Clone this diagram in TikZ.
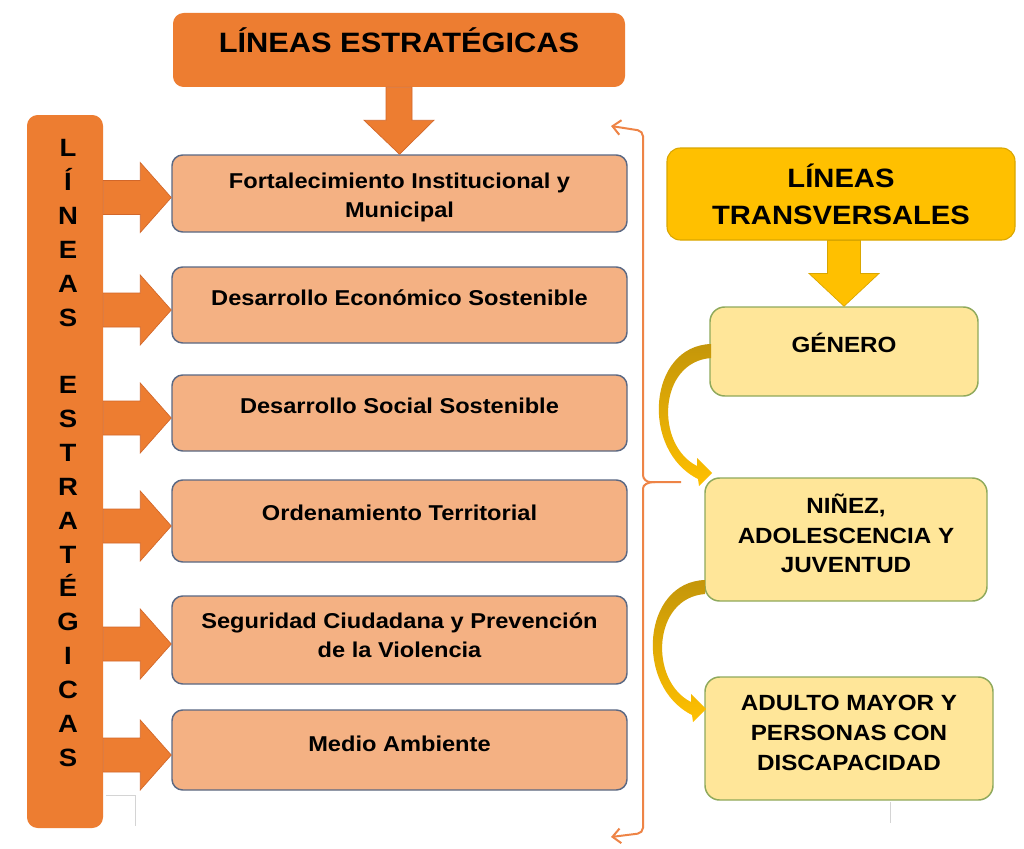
\documentclass[tikz,border=0pt]{standalone}
\usepackage{fontspec}
\setmainfont{Liberation Sans}[FakeStretch=1.1]
\usetikzlibrary{arrows.meta,fit,calc}
\definecolor{orng}{HTML}{ED7D31}
\definecolor{orngline}{HTML}{D2672A}
\definecolor{lorng}{HTML}{F4B183}
\definecolor{boxline}{HTML}{5A6883}
\definecolor{gold}{HTML}{FFC000}
\definecolor{goldline}{HTML}{D9A600}
\definecolor{darkgold}{RGB}{196,150,10}
\definecolor{lyell}{HTML}{FFE699}
\definecolor{greenline}{HTML}{8FA95B}
\definecolor{bracecol}{HTML}{EE8446}
\definecolor{faint}{HTML}{D4D4D4}
\newcommand\orangeright[2]{%
  \path ($(bar.east |- #1.west)+(0,#2)$) coordinate (tmpA);
  \path ($(#1.west)+(0,#2)$) coordinate (tmpB);
  \draw[blockarr] ($(tmpA)+(0,-17)$) -- ($(tmpA)+(37,-17)$) -- ($(tmpA)+(37,-35)$) -- (tmpB)
    -- ($(tmpA)+(37,35)$) -- ($(tmpA)+(37,17)$) -- ($(tmpA)+(0,17)$) -- cycle;}
\begin{document}
\begin{tikzpicture}[x=0.75pt,y=-0.75pt,
  obox/.style={draw=boxline, line width=1.1pt, fill=lorng, rounded corners=8pt, inner sep=0pt},
  ybox/.style={draw=greenline, line width=1.1pt, fill=lyell, rounded corners=11pt, inner sep=0pt},
  blockarr/.style={fill=orng, draw=orngline, line width=0.5pt},
  btext/.style={font=\bfseries\fontsize{16.1}{22.1}\selectfont, align=center, inner sep=0pt, text=black},
  ytext/.style={font=\bfseries\fontsize{16.5}{22.2}\selectfont, align=center, inner sep=0pt, text=black},
  bracepath/.style={draw=bracecol, line width=1.5pt},
  faintline/.style={draw=faint, line width=0.6pt}]
\useasboundingbox (0,0) rectangle (1024,849);
\fill[white] (0,0) rectangle (1024,849);

% title
\node[fill=orng, rounded corners=8pt, inner sep=0pt, fit={(173,13)(625,87)}] (title) {};
\node[anchor=base, inner sep=0pt, font=\bfseries\fontsize{21}{25}\selectfont] (titletext) at (399,53) {LÍNEAS ESTRATÉGICAS};

% vertical bar
\node[fill=orng, rounded corners=8pt, inner sep=0pt, fit={(27,115)(103,828)}] (bar) {};
\node[inner sep=0pt, align=center, font=\bfseries\fontsize{18.75}{25.4}\selectfont] (bartext) at (68,453)
 {L\\Í\\N\\E\\A\\S\\\mbox{}\\E\\S\\T\\R\\A\\T\\É\\G\\I\\C\\A\\S};

% strategic boxes
\node[obox, fit={(172,155)(627,232)}] (b1) {};
\node[obox, fit={(172,267)(627,343)}] (b2) {};
\node[obox, fit={(172,375)(627,451)}] (b3) {};
\node[obox, fit={(172,480)(627,562)}] (b4) {};
\node[obox, fit={(172,596)(627,684)}] (b5) {};
\node[obox, fit={(172,710)(627,790)}] (b6) {};

\node[btext] (t1) at (399.5,197.5) {Fortalecimiento Institucional y\\Municipal};
\node[btext, anchor=base] (t2) at (399.5,305.7) {Desarrollo Económico Sostenible};
\node[btext, anchor=base] (t3) at (399.5,413.7) {Desarrollo Social Sostenible};
\node[btext, anchor=base] (t4) at (399.5,520.7) {Ordenamiento Territorial};
\node[btext] (t5) at (399.5,635) {Seguridad Ciudadana y Prevención\\de la Violencia};
\node[btext, anchor=base] (t6) at (399.5,751.7) {Medio Ambiente};

% arrow from title
\draw[blockarr] ($(title.south)+(-13,0)$) -- ($(title.south)+(-13,33)$) -- ($(title.south)+(-35,33)$)
  -- (b1.north) -- ($(title.south)+(35,33)$) -- ($(title.south)+(13,33)$) -- ($(title.south)+(13,0)$) -- cycle;

% arrows from bar
\orangeright{b1}{4}
\orangeright{b2}{5}
\orangeright{b3}{5}
\orangeright{b4}{5}
\orangeright{b5}{4}
\orangeright{b6}{5}

% brace
\coordinate (bracetip) at (681,482);
\draw[bracepath, {Straight Barb[length=6pt,width=11pt]}-, rounded corners=4pt]
  (611,126) -- (643,131) -- (643,470) .. controls (643,479) and (647,482) .. (655,482) -- (bracetip);
\draw[bracepath, {Straight Barb[length=6pt,width=11pt]}-, rounded corners=4pt]
  (611,837) -- (643,833) -- (643,494) .. controls (643,485) and (647,482) .. (655,482);

% transversal header
\node[fill=gold, draw=goldline, line width=0.8pt, rounded corners=10pt, inner sep=0pt, fit={(667,148)(1015,240)}] (trans) {};
\node[inner sep=0pt, align=center, font=\bfseries\fontsize{19.9}{27.75}\selectfont] (transtext) at (841,194) {LÍNEAS\\TRANSVERSALES};

% transversal boxes
\node[ybox, fit={(710,307)(978,396)}] (g1) {};
\node[ybox, fit={(705,478)(987,601)}] (g2) {};
\node[ybox, fit={(705,677)(993,800)}] (g3) {};
\node[ytext, anchor=base] (gt1) at (844,352) {GÉNERO};
\node[ytext] (gt2) at (846,533.5) {NIÑEZ,\\ADOLESCENCIA Y\\JUVENTUD};
\node[ytext] (gt3) at (849,733) {ADULTO MAYOR Y\\PERSONAS CON\\DISCAPACIDAD};

% yellow down arrow
\path (g1.north |- trans.south) coordinate (ya);
\draw[fill=gold, draw=goldline, line width=0.5pt] ($(ya)+(-16.5,0)$) -- ($(ya)+(-16.5,33)$) -- ($(ya)+(-35,33)$)
  -- (g1.north) -- ($(ya)+(35,33)$) -- ($(ya)+(16.5,33)$) -- ($(ya)+(16.5,0)$) -- cycle;

% curved arrows
\shade[top color=darkgold, bottom color=gold]
  (711,344) .. controls (648,346) and (640,450) .. (698,479) -- (699,486) -- (712,473) -- (697,458)
  -- (697,466) .. controls (655,445) and (658,362) .. (711,358) -- cycle;
\begin{scope}[shift={(-6,236)}]
\shade[top color=darkgold, bottom color=gold]
  (711,344) .. controls (648,346) and (640,450) .. (698,479) -- (699,486) -- (712,473) -- (697,458)
  -- (697,466) .. controls (655,445) and (658,362) .. (711,358) -- cycle;
\end{scope}

% faint artefact lines
\draw[faintline] (106,795) -- (135,795) -- (135,826);
\draw[faintline] (890,802) -- (890,823);
\end{tikzpicture}
\end{document}
